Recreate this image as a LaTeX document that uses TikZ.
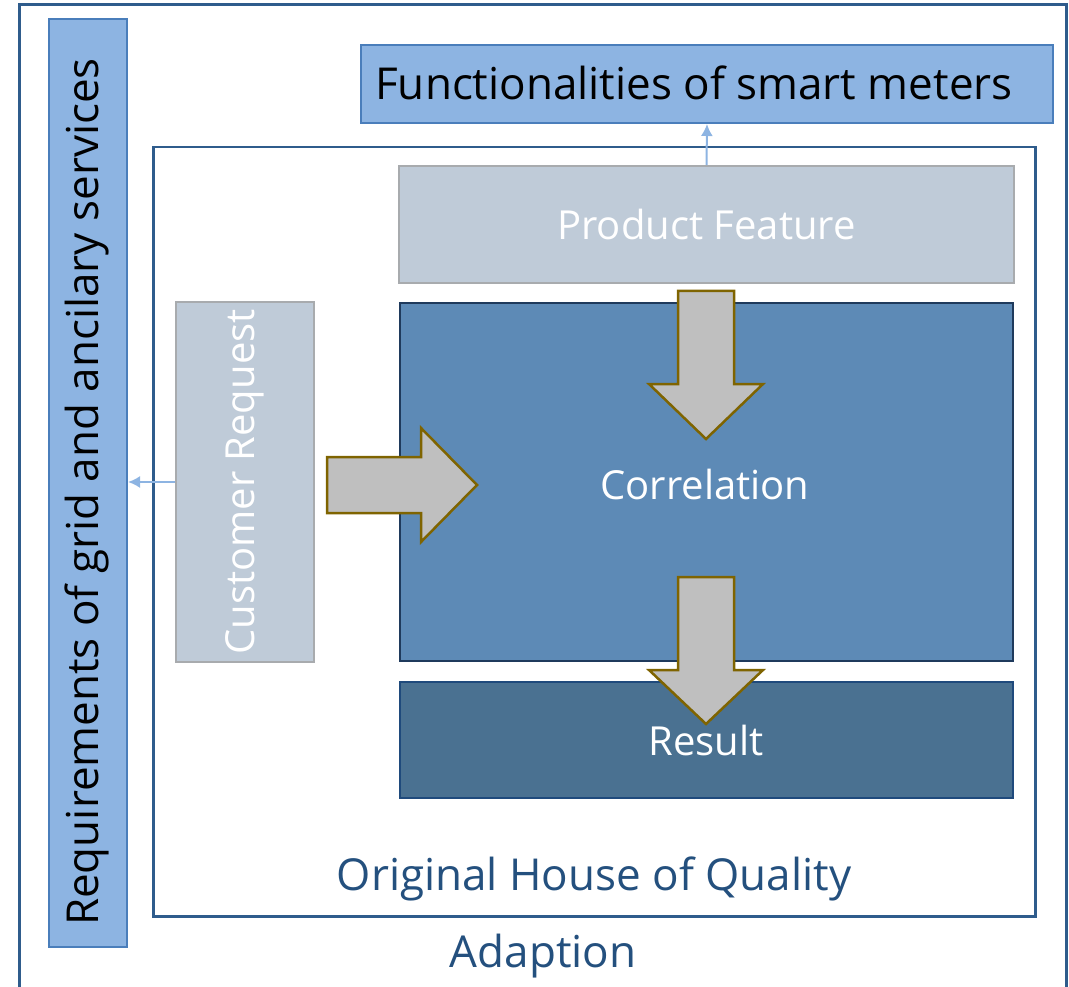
\documentclass[tikz,border=0pt]{standalone}
\usepackage{fontspec}
\setmainfont{Open Sans}
\usetikzlibrary{positioning,calc,arrows.meta}
\definecolor{frameBlue}{HTML}{2F5C8C}
\definecolor{reqFill}{HTML}{8DB4E2}
\definecolor{reqDraw}{HTML}{4A7EBB}
\definecolor{greyFill}{HTML}{BFCBD8}
\definecolor{greyDraw}{HTML}{A8ABAE}
\definecolor{corrFill}{HTML}{5D8AB6}
\definecolor{corrDraw}{HTML}{1F3A5C}
\definecolor{resFill}{HTML}{4A7191}
\definecolor{resDraw}{HTML}{1F4A7C}
\definecolor{arrFill}{HTML}{BFBFBF}
\definecolor{arrDraw}{HTML}{7F6400}
\definecolor{hoqText}{HTML}{24507E}
\tikzset{
    box/.style={rectangle, draw, line width=2pt, inner sep=0pt, anchor=north west},
    reqbox/.style={box, fill=reqFill, draw=reqDraw},
    greybox/.style={box, fill=greyFill, draw=greyDraw, text=white},
    corrbox/.style={box, fill=corrFill, draw=corrDraw, text=white},
    resbox/.style={box, fill=resFill, draw=resDraw, text=white},
    % big block arrows
    blockarr/.style={fill=arrFill, draw=arrDraw, line width=2.5pt, line join=miter},
    % thin connectors
    thinarr/.style={-{Latex[length=12pt,width=12pt]}, draw=reqFill, line width=2pt},
    bigfont/.style={font=\fontsize{40}{44}\selectfont},
    hugefont/.style={font=\fontsize{44}{50}\selectfont}
}
\begin{document}
\begin{tikzpicture}[x=1pt, y=-1pt]
\useasboundingbox (0,0) rectangle (1069,987);

% outer frame (bottom edge runs off the page)
\draw[frameBlue, line width=3pt] (19,995) -- (19,5) -- (1066,5) -- (1066,995);
\node[hugefont, text=hoqText] (adaption) at (543,956) {Adaption};

% original house of quality
\node[box, draw=frameBlue, line width=2.5pt, minimum width=882pt, minimum height=769pt] (hoq) at (152,146) {};
\node[hugefont, text=hoqText] (hoqlabel) at (594,879) {Original House of Quality};

\node[reqbox, minimum width=78pt, minimum height=928pt] (req) at (48,18) {};
\node[hugefont, rotate=90] at (87,492) {Requirements of grid and ancilary services};

\node[reqbox, minimum width=692pt, minimum height=78pt] (func) at (360,44) {};
\node[hugefont] at (694,83) {Functionalities of smart meters};

\node[greybox, minimum width=615pt, minimum height=117pt, bigfont] (feature) at (398,165) {Product Feature};
\node[greybox, minimum width=138pt, minimum height=360pt] (request) at (175,301) {};
\node[bigfont, text=white, rotate=90] at (request.center) {Customer Request};

\node[corrbox, minimum width=613pt, minimum height=358pt] (corr) at (399,302) {};
\node[bigfont, text=white] at (705,484) {Correlation};
\node[resbox, minimum width=613pt, minimum height=116pt] (result) at (399,681) {};
\node[bigfont, text=white] at (706,740) {Result};

% thin connectors
\draw[thinarr] (feature.north) -- (func.south);
\draw[thinarr] (request.west |- 0,482) -- (req.east |- 0,482);

% block arrows
\draw[blockarr] (327,457) -- (421,457) -- (421,428) -- (477,485) -- (421,542) -- (421,513) -- (327,513) -- cycle;
\draw[blockarr] (678,291) -- (734,291) -- (734,384) -- (763,384) -- (706,439) -- (649,384) -- (678,384) -- cycle;
\draw[blockarr] (678,577) -- (734,577) -- (734,670) -- (763,670) -- (706,724) -- (649,670) -- (678,670) -- cycle;
\end{tikzpicture}
\end{document}
